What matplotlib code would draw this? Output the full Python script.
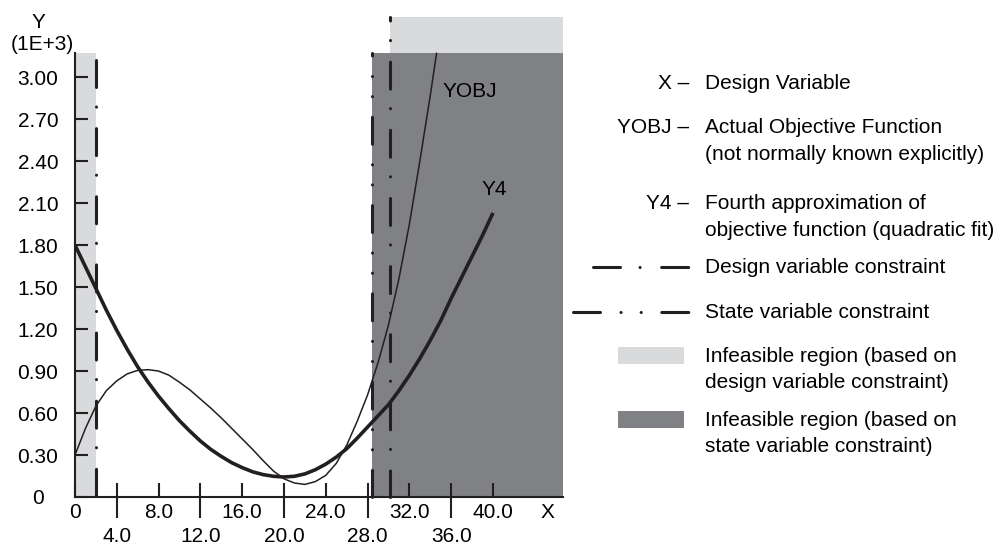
import numpy as np
import matplotlib
matplotlib.use('Agg')
import matplotlib.pyplot as plt
from matplotlib.lines import Line2D
from matplotlib.patches import Rectangle
from matplotlib.transforms import blended_transform_factory

plt.rcParams['font.family'] = ['Liberation Sans', 'DejaVu Sans']
plt.rcParams['lines.scale_dashes'] = False

# data (Y in units of 1E+3)
yobj_x = [0, 1, 2, 3, 4, 5, 6, 7, 8, 9, 10, 11, 12, 13, 14, 15, 16, 17, 18, 19,
          20, 21, 22, 23, 24, 25, 26, 27, 28, 29, 30, 31, 32, 33, 34, 34.6]
yobj_y = [0.30, 0.49, 0.65, 0.76, 0.83, 0.88, 0.905, 0.91, 0.90, 0.87, 0.82, 0.765,
          0.70, 0.635, 0.565, 0.49, 0.415, 0.34, 0.26, 0.185, 0.13, 0.10, 0.09, 0.11,
          0.155, 0.24, 0.37, 0.54, 0.73, 0.96, 1.23, 1.56, 1.95, 2.40, 2.87, 3.17]
y4_x = [0, 1, 2, 3, 4, 5, 6, 7, 8, 9, 10, 11, 12, 13, 14, 15, 16, 17, 18, 19, 20,
        21, 22, 23, 24, 25, 26, 27, 28, 29, 30, 31, 32, 33, 34, 35, 36, 37, 38, 39, 40]
y4_y = [1.80, 1.645, 1.49, 1.335, 1.19, 1.055, 0.93, 0.82, 0.72, 0.63, 0.545, 0.47,
        0.40, 0.34, 0.29, 0.245, 0.21, 0.18, 0.16, 0.148, 0.143, 0.148, 0.165, 0.195,
        0.235, 0.285, 0.345, 0.42, 0.50, 0.58, 0.66, 0.76, 0.87, 0.99, 1.12, 1.26,
        1.42, 1.57, 1.72, 1.87, 2.03]

design_x = [2.0, 30.1]       # design variable constraints
design_top = [3.12, 3.43]
state_x = [28.4]             # state variable constraint
state_top = [3.17]
region_top = 3.17
x_end = 46.7
y_end = 3.43

y_ticks = [0, 0.3, 0.6, 0.9, 1.2, 1.5, 1.8, 2.1, 2.4, 2.7, 3.0]
y_labels = ['0', '0.30', '0.60', '0.90', '1.20', '1.50', '1.80', '2.10', '2.40', '2.70', '3.00']
x_ticks_a = [0, 8, 16, 24, 32, 40]
x_labels_a = ['0', '8.0', '16.0', '24.0', '32.0', '40.0']
x_ticks_b = [4, 12, 20, 28, 36]
x_labels_b = ['4.0', '12.0', '20.0', '28.0', '36.0']

legend_keys = ['X \u2013', 'YOBJ \u2013', 'Y4 \u2013']
legend_texts = [['Design Variable'],
                ['Actual Objective Function', '(not normally known explicitly)'],
                ['Fourth approximation of', 'objective function (quadratic fit)']]
line_texts = ['Design variable constraint', 'State variable constraint']
region_texts = [['Infeasible region (based on', 'design variable constraint)'],
                ['Infeasible region (based on', 'state variable constraint)']]

ink = '#231f20'
light = '#d9dadc'
dark = '#808185'
fs = 15

px2pt = 0.72
design_ls = (0, (27 * px2pt, 19.5 * px2pt, 0.1, 21.5 * px2pt))
state_ls = (0, (27 * px2pt, 20.5 * px2pt, 0.1, 20 * px2pt, 0.1, 20.5 * px2pt))

W, H = 1000, 545
fig = plt.figure(figsize=(W / 100, H / 100), dpi=100)


def fx(p):
    return p / W


def fy(p):
    return 1 - p / H


ax = fig.add_axes([fx(75), fy(497), (563 - 75) / W, (497 - 17) / H])
ax.patch.set_visible(False)
ax.set_xlim(0, x_end)
ax.set_ylim(0, y_end)
ax.spines[['top', 'right']].set_visible(False)
ax.spines['left'].set_bounds(0, region_top)
for s in ['left', 'bottom']:
    ax.spines[s].set_linewidth(1.5)
    ax.spines[s].set_color(ink)

# infeasible regions
ax.fill_between([0, design_x[0]], 0, region_top, color=light, lw=0, zorder=0.5)
ax.fill_between([design_x[1], x_end], region_top, y_end, color=light, lw=0, zorder=0.5)
ax.fill_between([state_x[0], x_end], 0, region_top, color=dark, lw=0, zorder=0.5)

# curves
ax.plot(yobj_x, yobj_y, color=ink, lw=1.1, zorder=2)
ax.plot(y4_x, y4_y, color=ink, lw=2.6, zorder=2, solid_capstyle='butt')

# constraint lines (drawn top-down so dash phase matches)
offsets = [0, 23.5 * px2pt]
for x, top, off in zip(design_x, design_top, offsets):
    ax.plot([x, x], [top, 0], color=ink, lw=2.2, ls=(off, design_ls[1]),
            dash_capstyle='round', clip_on=False, zorder=3)
for x, top in zip(state_x, state_top):
    ax.plot([x, x], [top, 0], color=ink, lw=2.2, ls=(24.5 * px2pt, state_ls[1]),
            dash_capstyle='round', clip_on=False, zorder=3)

ax.text(35.2, 2.90, 'YOBJ', fontsize=fs, va='center', color='black')
ax.text(38.9, 2.20, 'Y4', fontsize=fs, va='center', color='black')

# ticks
ax.set_yticks(y_ticks, labels=y_labels)
ax.tick_params(axis='y', direction='in', length=9.4, width=1.5, color=ink,
               pad=26.6, labelsize=fs)
for lab in ax.get_yticklabels():
    lab.set_ha('center')

all_x = sorted(x_ticks_a + x_ticks_b)
ax.set_xticks(all_x, labels=[x_labels_a[x_ticks_a.index(t)] if t in x_ticks_a else ''
                             for t in all_x])
ax.set_xticks(x_ticks_b, labels=x_labels_b, minor=True)
ax.xaxis.remove_overlapping_locs = False
ax.tick_params(axis='x', which='major', direction='in', length=10, width=1.5,
               color=ink, pad=11.5, labelsize=fs)
ax.tick_params(axis='x', which='minor', direction='out', length=15, width=1.5,
               color=ink, pad=13.7, labelsize=fs)
for lab in ax.get_xticklabels(which='both'):
    lab.set_va('center')

trans = blended_transform_factory(ax.transData, ax.transAxes)
ax.text(45.2, -16 / 480, 'X', transform=trans, fontsize=fs, ha='center', va='center')

fig.text(fx(38), fy(22), 'Y', fontsize=fs, ha='center', va='center')
fig.text(fx(42), fy(45), '(1E+3)', fontsize=fs, ha='center', va='center')

# legend block
rows_y = [83, 127, 203]
for key, lines, y in zip(legend_keys, legend_texts, rows_y):
    fig.text(fx(689), fy(y), key, fontsize=fs, ha='right', va='center')
    for i, t in enumerate(lines):
        fig.text(fx(705), fy(y + 27 * i), t, fontsize=fs, ha='left', va='center')

for t, y in zip(line_texts, [267, 312]):
    fig.text(fx(705), fy(y), t, fontsize=fs, ha='left', va='center')
fig.add_artist(Line2D([fx(593), fx(693)], [fy(267)] * 2, transform=fig.transFigure,
                      color=ink, lw=2.2, ls=design_ls, dash_capstyle='round'))
fig.add_artist(Line2D([fx(573), fx(693)], [fy(312)] * 2, transform=fig.transFigure,
                      color=ink, lw=2.2, ls=state_ls, dash_capstyle='round'))

for lines, y, c in zip(region_texts, [356, 420], [light, dark]):
    fig.add_artist(Rectangle((fx(618), fy(y + 8)), (684 - 618) / W, 17 / H,
                             transform=fig.transFigure, color=c, lw=0))
    for i, t in enumerate(lines):
        fig.text(fx(705), fy(y + 26 * i), t, fontsize=fs, ha='left', va='center')

fig.savefig('out.png', dpi=100, facecolor='white')
